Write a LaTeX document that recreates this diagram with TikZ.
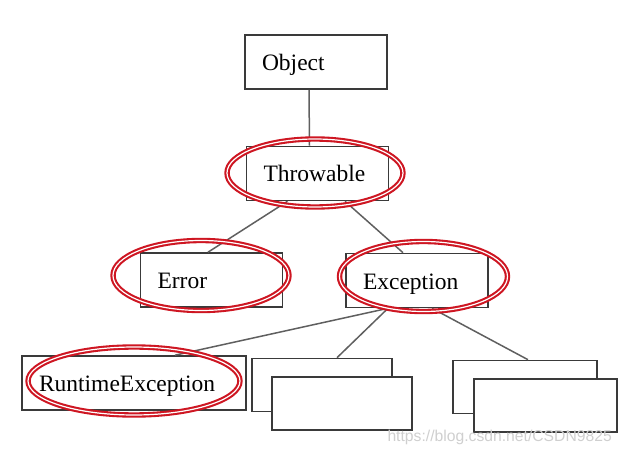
\documentclass[tikz,border=0pt]{standalone}
\usepackage{fontspec}
\setmainfont{Liberation Serif}
\newfontfamily\wmfont{Liberation Sans}
\usetikzlibrary{positioning}
\usetikzlibrary{shapes}

\definecolor{boxline}{RGB}{58,58,58}
\definecolor{linkgray}{RGB}{95,95,95}
\definecolor{hlred}{RGB}{206,22,34}

\tikzset{
  cls/.style={draw=boxline, line width=1.6pt, fill=white, minimum height=54,
    inner xsep=17pt, inner ysep=0pt, text width=#1, align=left,
    text height=19pt, text depth=2pt, font=\fontsize{23.5}{26}\selectfont},
  cls/.default=108pt,
  blank/.style={draw=boxline, line width=1.6pt, fill=white, minimum width=#1, minimum height=53},
  blank/.default=141,
  link/.style={draw=linkgray, line width=1.5pt},
  hl/.style={draw=hlred, line width=2.1pt, double=white, double distance=1.2pt},
  wmark/.style={text=gray!38, font=\wmfont\fontsize{15.7}{17}\selectfont, inner sep=0pt}
}

\begin{document}
\begin{tikzpicture}[x=1pt, y=-1pt]
\useasboundingbox (0,0) rectangle (622,452);
%tree
\node[cls] (obj) at (316,62) {Object};
\node[cls] (thr) at (317.5,173.5) {Throwable};
\node[cls] (err) at (211.5,280) {Error};
\node[cls] (exc) at (417,280.5) {Exception};
\node[cls=190pt] (rte) at (134,383) {RuntimeException};
%empty subclasses
\node[blank=140] (sub1) at (322,385) {};
\node[blank=140] (sub1b) at (342,403.5) {};
\node[blank=144] (sub2) at (525,387) {};
\node[blank=143] (sub2b) at (545.5,405.5) {};
%links
\draw[link] ([xshift=-7pt]obj.south) -- ([xshift=-8pt]thr.north);
\draw[link] ([xshift=-30pt]thr.south) -- ([xshift=-3.5pt]err.north);
\draw[link] ([xshift=27.5pt]thr.south) -- ([xshift=-14pt]exc.north);
\draw[link] ([xshift=-29pt]exc.south) -- ([xshift=41pt]rte.north);
\draw[link] ([xshift=-29pt]exc.south) -- ([xshift=15pt]sub1.north);
\draw[link] ([xshift=15pt]exc.south) -- ([xshift=3pt]sub2.north);
%red marks
\draw[hl] ([shift={(-2.5pt,0.5pt)}]thr.center) ellipse [x radius=88, y radius=34];
\draw[hl] ([shift={(-10.5pt,4.5pt)}]err.center) ellipse [x radius=88, y radius=35];
\draw[hl] ([shift={(6.5pt,4pt)}]exc.center) ellipse [x radius=84, y radius=35];
\draw[hl] ([shift={(0pt,2pt)}]rte.center) ellipse [x radius=106, y radius=34];
%watermark
\node[wmark, anchor=base east] (wm) at (612,441) {https://blog.csdn.net/CSDN9825};
\end{tikzpicture}
\end{document}
